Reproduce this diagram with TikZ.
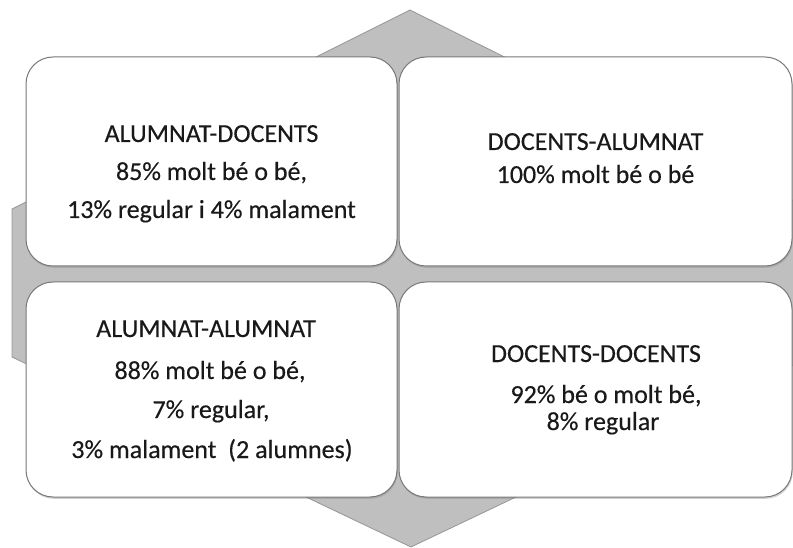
\documentclass[tikz,border=0pt]{standalone}
\usepackage{fontspec}
\setmainfont{Carlito}
\newfontfamily\quadfont{Carlito}[FakeBold=0.35]
\usetikzlibrary{shadows}
\definecolor{hexfill}{RGB}{191,191,191}
\definecolor{hexline}{RGB}{150,150,150}
\definecolor{boxline}{RGB}{120,120,120}
\definecolor{txtcol}{RGB}{25,25,25}
\tikzset{
  quadbox/.style={draw=boxline, line width=1pt, fill=white, rounded corners=27pt,
    inner sep=0pt, drop shadow={opacity=0.35, shadow xshift=0.8pt, shadow yshift=-1.8pt}},
  txtline/.style={anchor=base, inner sep=0pt, text=txtcol, font=\quadfont\fontsize{26}{30}\selectfont}
}
\begin{document}
\begin{tikzpicture}[x=1pt,y=-1pt]
\useasboundingbox (0,0) rectangle (793,548);
\fill[white] (0,0) rectangle (793,548);
\begin{scope}
\clip (0,0) rectangle (793,548);
\filldraw[fill=hexfill, draw=hexline, line width=0.8pt]
  (410,10) -- (12,209) -- (12,357) -- (411,547) -- (810,357) -- (810,209) -- cycle;
\end{scope}
% boxes
\node[quadbox, minimum width=371pt, minimum height=209pt] (tl) at (211.5,161.5) {};
\node[quadbox, minimum width=393pt, minimum height=209pt] (tr) at (595.5,161.5) {};
\node[quadbox, minimum width=371pt, minimum height=215pt] (bl) at (211.5,389.5) {};
\node[quadbox, minimum width=393pt, minimum height=215pt] (br) at (595.5,389.5) {};
% texts
\node[txtline] (tl1) at (211.5,142) {ALUMNAT-DOCENTS};
\node[txtline] (tl2) at (211.5,180) {85\% molt bé o bé,};
\node[txtline] (tl3) at (211.5,218) {13\% regular i 4\% malament};
\node[txtline] (tr1) at (595.5,150) {DOCENTS-ALUMNAT};
\node[txtline] (tr2) at (595.5,183) {100\% molt bé o bé};
\node[txtline] (bl1) at (206,337) {ALUMNAT-ALUMNAT};
\node[txtline] (bl2) at (210,379) {88\% molt bé o bé,};
\node[txtline] (bl3) at (211,418) {7\% regular,};
\node[txtline] (bl4) at (212,458) {3\% malament\ \ (2 alumnes)};
\node[txtline] (br1) at (596,362) {DOCENTS-DOCENTS};
\node[txtline] (br2) at (606,403) {92\% bé o molt bé,};
\node[txtline] (br3) at (603,430) {8\% regular};
\end{tikzpicture}
\end{document}
